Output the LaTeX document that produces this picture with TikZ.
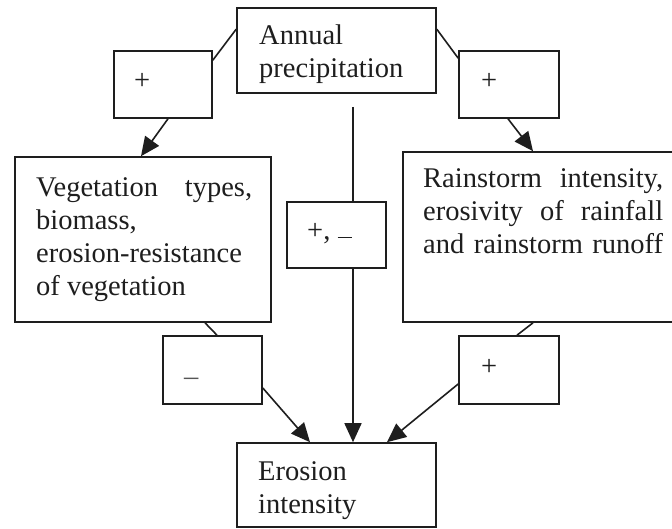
\documentclass[tikz,border=0pt]{standalone}
\usepackage{fontspec}
\setmainfont{Liberation Serif}
\usetikzlibrary{arrows.meta}
\definecolor{ink}{HTML}{1E1E1E}
\tikzset{
  box/.style={draw=ink, line width=1.6pt, fill=white, rectangle, inner sep=0pt},
  txt/.style={anchor=base west, inner sep=0pt, text=ink, font=\fontsize{28.5}{33}\selectfont},
  conn/.style={draw=ink, line width=1.6pt},
  arr/.style={conn, -{Triangle[length=19pt,width=17pt]}},
}
\begin{document}
\begin{tikzpicture}[x=1pt,y=-1pt]
\useasboundingbox (0,0) rectangle (672,529);
\fill[white] (0,0) rectangle (672,529);
% boxes
\node[box, minimum width=199pt, minimum height=85pt] (A) at (336.5,50.5) {};
\node[box, minimum width=98pt, minimum height=67pt] (PL) at (163,84.5) {};
\node[box, minimum width=100pt, minimum height=67pt] (PR) at (509,84.5) {};
\node[box, minimum width=256pt, minimum height=165pt] (V) at (143,239.5) {};
\node[box, minimum width=287pt, minimum height=170pt] (R) at (546.5,237) {};
\node[box, minimum width=99pt, minimum height=66pt] (PM) at (336.5,235) {};
\node[box, minimum width=99pt, minimum height=68pt] (ML) at (212.5,370) {};
\node[box, minimum width=100pt, minimum height=68pt] (PR2) at (509,370) {};
\node[box, minimum width=199pt, minimum height=84pt] (E) at (336.5,485) {};
% texts
\node[txt] (tA) at (259,45) {\parbox[t]{170pt}{Annual\\precipitation}};
\node[txt] (tV) at (36,197) {\parbox[t]{216pt}{\makebox[216pt][s]{Vegetation types,}\\biomass,\\erosion-resistance\\of vegetation}};
\node[txt] (tR) at (423,188) {\parbox[t]{240pt}{\makebox[240pt][s]{Rainstorm intensity,}\\\makebox[240pt][s]{erosivity of rainfall}\\\makebox[240pt][s]{and rainstorm runoff}}};
\node[txt] (tE) at (258,480) {\parbox[t]{170pt}{Erosion\\intensity}};
\node[txt] (tPL) at (134,90) {+};
\node[txt] (tPR) at (481,90) {+};
\node[txt] (tPR2) at (481,375) {+};
\node[txt] (tML) at (184,385) {\textcolor{ink!75}{–}};
\node[txt] (tPM) at (307,240) {+, \rule[1.5pt]{14pt}{1.4pt}};
% connectors
\coordinate (top) at (353,107);
\draw[conn] ([yshift=-22pt]A.north west) -- ([yshift=-10pt]PL.north east);
\draw[arr] ([xshift=5pt]PL.south) -- ([xshift=-2pt]V.north);
\draw[conn] ([yshift=-22pt]A.north east) -- ([yshift=-8pt]PR.north west);
\draw[arr] ([xshift=-1pt]PR.south) -- ([xshift=-13.5pt]R.north);
\draw[conn] (top) -- ([xshift=16.5pt]PM.north);
\draw[arr] ([xshift=16.5pt]PM.south) -- ([xshift=16.5pt]E.north);
\draw[conn] ([xshift=62pt]V.south) -- ([xshift=4.5pt]ML.north);
\draw[arr] ([yshift=-18pt]ML.east) -- ([xshift=-26.5pt]E.north);
\draw[conn] ([xshift=-13.5pt]R.south) -- ([xshift=8pt]PR2.north);
\draw[arr] ([yshift=-14pt]PR2.west) -- ([xshift=50.5pt]E.north);
\end{tikzpicture}
\end{document}
